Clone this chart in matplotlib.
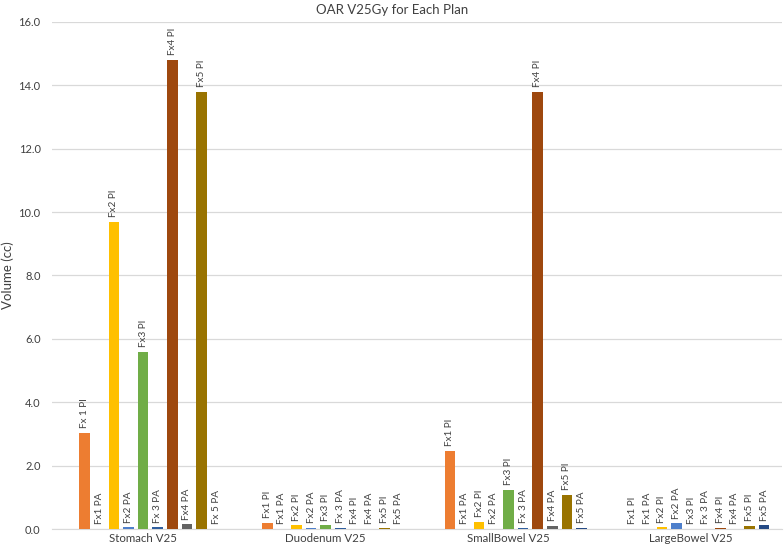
import numpy as np
import matplotlib
matplotlib.use("Agg")
import matplotlib.pyplot as plt

plt.rcParams['font.family'] = ['Lato', 'DejaVu Sans']

# organs on the x axis
categories = ['Stomach V25', 'Duodenum V25', 'SmallBowel V25', 'LargeBowel V25']

series = ['Fx1 PI', 'Fx1 PA', 'Fx2 PI', 'Fx2 PA', 'Fx3 PI',
          'Fx3 PA', 'Fx4 PI', 'Fx4 PA', 'Fx5 PI', 'Fx5 PA']

# V25Gy (cc) per organ, one value per series
stomach = [3.04, 0.0, 9.7, 0.05, 5.6, 0.05, 14.8, 0.15, 13.8, 0.0]
duodenum = [0.2, 0.0, 0.12, 0.03, 0.12, 0.03, 0.0, 0.0, 0.04, 0.0]
small_bowel = [2.46, 0.0, 0.23, 0.0, 1.24, 0.04, 13.8, 0.1, 1.07, 0.04]
large_bowel = [0.0, 0.0, 0.05, 0.18, 0.0, 0.0, 0.03, 0.0, 0.1, 0.12]

# bar labels as written in the sheet
bar_labels = [
    ['Fx 1 PI', 'Fx1 PA', 'Fx2 PI', 'Fx2 PA', 'Fx3 PI', 'Fx 3 PA', 'Fx4 PI', 'Fx4 PA', 'Fx5 PI', 'Fx 5 PA'],
    ['Fx1 PI', 'Fx1 PA', 'Fx2 PI', 'Fx2 PA', 'Fx3 PI', 'Fx 3 PA', 'Fx4 PI', 'Fx4 PA', 'Fx5 PI', 'Fx5 PA'],
    ['Fx1 PI', 'Fx1 PA', 'Fx2 PI', 'Fx2 PA', 'Fx3 PI', 'Fx 3 PA', 'Fx4 PI', 'Fx4 PA', 'Fx5 PI', 'Fx5 PA'],
    ['Fx1 PI', 'Fx1 PA', 'Fx2 PI', 'Fx2 PA', 'Fx3 PI', 'Fx 3 PA', 'Fx4 PI', 'Fx4 PA', 'Fx5 PI', 'Fx5 PA'],
]

colors = ['#ED7D31', '#A5A5A5', '#FFC000', '#4E7FCB', '#70AD47',
          '#2F5E9E', '#9E480E', '#636363', '#997300', '#254A85']

values = np.array([stomach, duodenum, small_bowel, large_bowel])

fig = plt.figure(figsize=(7.84, 5.46), dpi=100)
ax = fig.add_axes([0.066, 0.031, 0.932, 0.929])

x = np.arange(len(categories))
slot = 0.08
width = 0.058

for i, name in enumerate(series):
    # excel keeps an empty slot before the first series
    pos = x + (i + 1 - 5) * slot
    bars = ax.bar(pos, values[:, i], width, color=colors[i], label=name, zorder=3)
    for j, b in enumerate(bars):
        ax.text(b.get_x() + b.get_width() / 2, b.get_height() + 0.15, bar_labels[j][i],
                rotation=90, ha='center', va='bottom', fontsize=7.2, color='#404040')

ax.set_xlim(-0.5, 3.5)
ax.set_ylim(0, 16)
ax.set_yticks(np.arange(0, 17, 2))
ax.set_yticklabels(['%.1f' % v for v in np.arange(0, 17, 2)], fontsize=8, color='#404040')
ax.set_xticks(x)
ax.set_xticklabels(categories, fontsize=8.3, color='#404040')
ax.tick_params(length=0)
ax.tick_params(axis='x', pad=3)
ax.tick_params(axis='y', pad=8)

ax.grid(axis='y', color='#D9D9D9', linewidth=0.9, zorder=0)
for s in ['top', 'right', 'left']:
    ax.spines[s].set_visible(False)
ax.spines['bottom'].set_color('#D9D9D9')

ax.set_ylabel('Volume (cc)', fontsize=9.5, color='#404040')
ax.yaxis.set_label_coords(-0.052, 0.5)
fig.text(0.5, 0.992, 'OAR V25Gy for Each Plan', ha='center', va='top', fontsize=9.5, color='#404040')

fig.savefig('out.png', dpi=100)
